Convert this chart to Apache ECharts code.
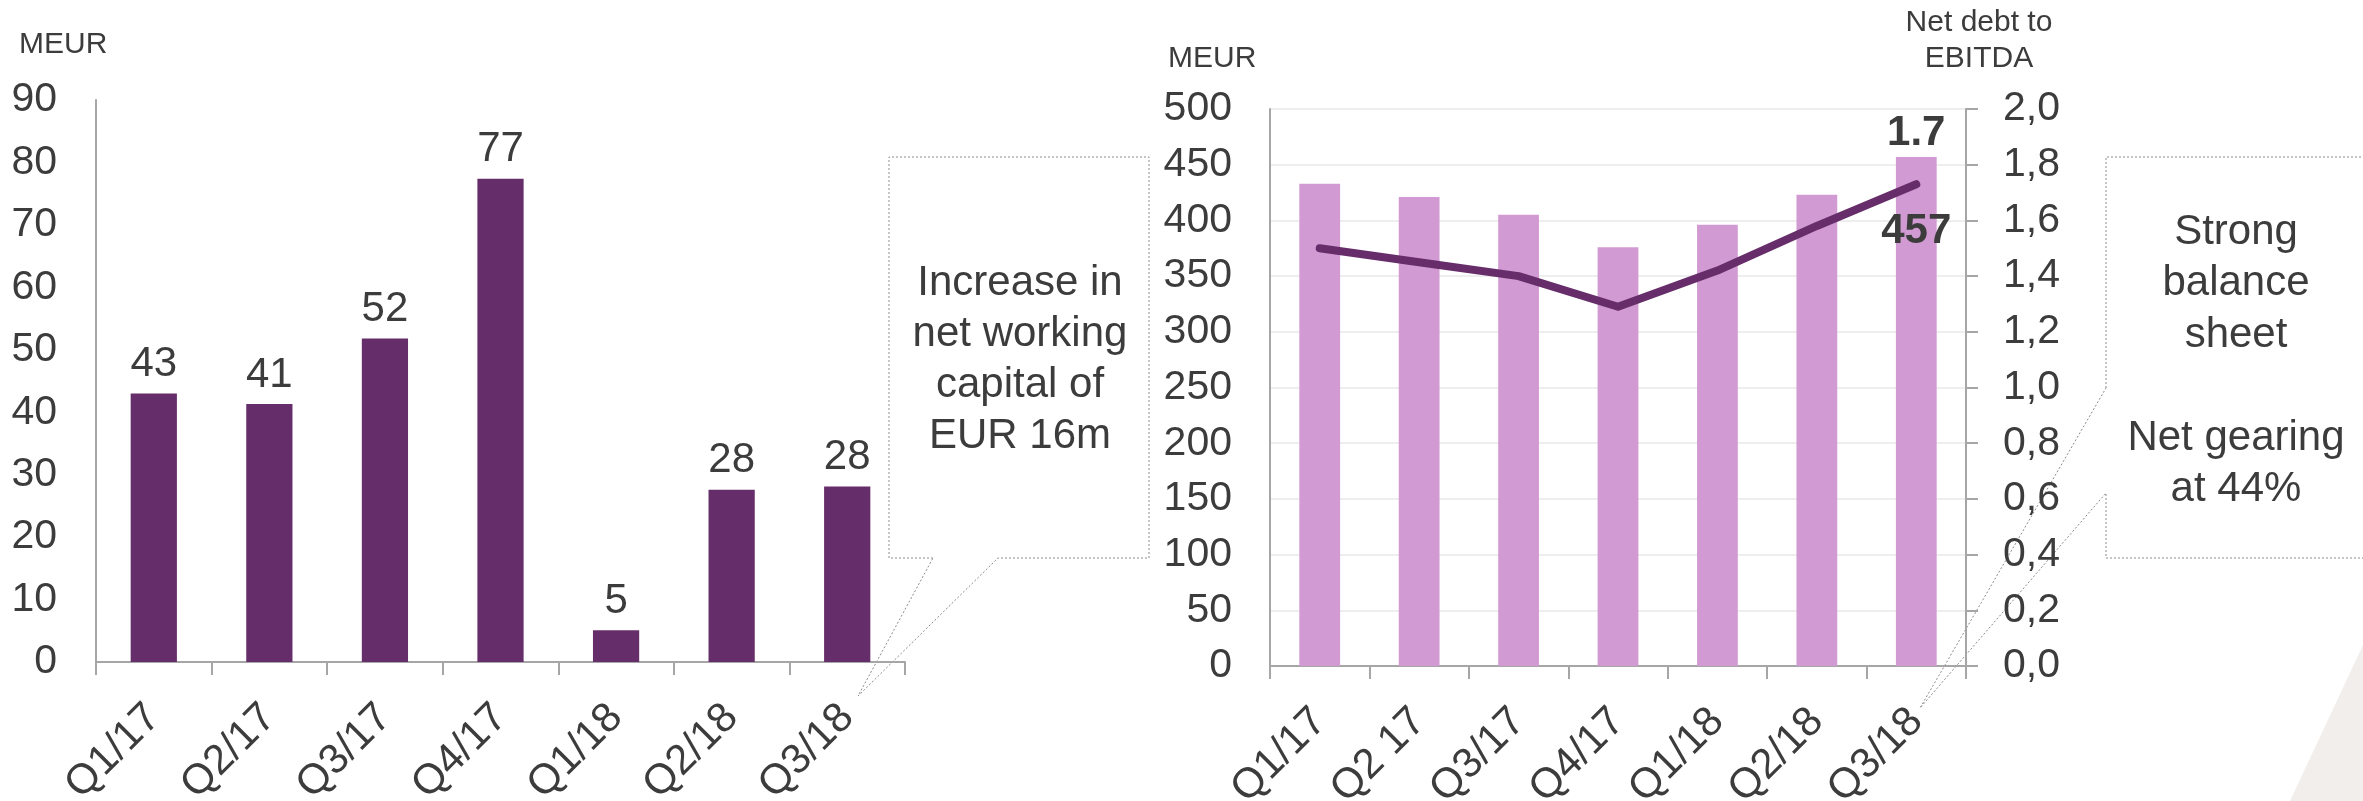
<!DOCTYPE html>
<html>
<head>
<meta charset="utf-8">
<script src="https://cdn.jsdelivr.net/npm/echarts@6/dist/echarts.min.js"></script>
<style>
html, body { margin: 0; padding: 0; background: #fff; }
#chart { width: 2363px; height: 801px; }
</style>
</head>
<body>
<div id="chart"></div>
<script>
// left chart: cash flow (MEUR)
var leftCats = ['Q1/17', 'Q2/17', 'Q3/17', 'Q4/17', 'Q1/18', 'Q2/18', 'Q3/18']
var leftValues = [43, 41.3, 51.8, 77.4, 5.1, 27.6, 28.1]
var leftTicks = [0, 90, 10]

// right chart: net debt (MEUR) and net debt to EBITDA
var rightCats = ['Q1/17', 'Q2 17', 'Q3/17', 'Q4/17', 'Q1/18', 'Q2/18', 'Q3/18']
var netDebt = [433, 421, 405, 376, 396, 423, 457]
var debtToEbitda = [1.50, 1.45, 1.40, 1.29, 1.42, 1.58, 1.73]
var debtTicks = [0, 500, 50]
var ratioTicks = [0, 2, 0.2]

var font = 'Liberation Sans, Arial, sans-serif'
var textColor = '#3c3c3c'
var axisGrey = '#a6a6a6'

var chart = echarts.init(document.getElementById('chart'))

// last points get the bold labels
var debtData = netDebt.map(function (v, i) {
  if (i === netDebt.length - 1) {
    return { value: v, label: { show: true, position: 'insideTop', distance: 54, fontWeight: 'bold', fontSize: 42, color: textColor, fontFamily: font } }
  }
  return v
})
var ratioData = debtToEbitda.map(function (v, i) {
  if (i === debtToEbitda.length - 1) {
    return { value: v, label: { show: true, position: 'top', distance: 29, fontWeight: 'bold', fontSize: 42, color: textColor, fontFamily: font, formatter: function (p) { return p.value.toFixed(1) } } }
  }
  return v
})

function catAxis(idx, cats) {
  return {
    type: 'category',
    gridIndex: idx,
    data: cats,
    axisLine: { show: true, lineStyle: { color: axisGrey, width: 2 } },
    axisTick: { show: true, length: 13, lineStyle: { color: axisGrey, width: 2 } },
    axisLabel: { interval: 0, rotate: 45, margin: 49, fontSize: 42, color: textColor, fontFamily: font }
  }
}

var option = {
  animation: false,
  backgroundColor: '#fff',
  grid: [
    { left: 96, top: 100, width: 809, height: 562, outerBoundsMode: 'none' },
    { left: 1270, top: 109, width: 696, height: 557, outerBoundsMode: 'none' }
  ],
  xAxis: [catAxis(0, leftCats), catAxis(1, rightCats)],
  yAxis: [
    {
      type: 'value', gridIndex: 0,
      min: leftTicks[0], max: leftTicks[1], interval: leftTicks[2],
      axisLine: { show: true, lineStyle: { color: axisGrey, width: 2 } },
      axisTick: { show: false },
      splitLine: { show: false },
      axisLabel: { margin: 39, fontSize: 41, color: textColor, fontFamily: font }
    },
    {
      type: 'value', gridIndex: 1,
      min: debtTicks[0], max: debtTicks[1], interval: debtTicks[2],
      axisLine: { show: true, lineStyle: { color: axisGrey, width: 2 } },
      axisTick: { show: false },
      splitLine: { show: true, lineStyle: { color: '#eeeeee', width: 2 } },
      axisLabel: { margin: 38, fontSize: 41, color: textColor, fontFamily: font }
    },
    {
      type: 'value', gridIndex: 1, position: 'right',
      min: ratioTicks[0], max: ratioTicks[1], interval: ratioTicks[2],
      axisLine: { show: true, lineStyle: { color: axisGrey, width: 2 } },
      axisTick: { show: true, length: 12, lineStyle: { color: axisGrey, width: 2 } },
      splitLine: { show: false },
      axisLabel: {
        margin: 37, fontSize: 41, color: textColor, fontFamily: font,
        formatter: function (v) { return v.toFixed(1).replace('.', ',') }
      }
    }
  ],
  series: [
    {
      type: 'bar', xAxisIndex: 0, yAxisIndex: 0,
      data: leftValues, barWidth: '40%',
      itemStyle: { color: '#652d69' },
      label: {
        show: true, position: 'top', distance: 8, fontSize: 42, color: textColor, fontFamily: font,
        formatter: function (p) { return Math.round(p.value) }
      }
    },
    {
      type: 'bar', xAxisIndex: 1, yAxisIndex: 1,
      data: debtData, barWidth: '41%',
      itemStyle: { color: '#d29ad3' }
    },
    {
      type: 'line', xAxisIndex: 1, yAxisIndex: 2,
      data: ratioData, symbol: 'circle', symbolSize: 1, showSymbol: true, z: 5,
      itemStyle: { color: '#662d6a' },
      lineStyle: { color: '#662d6a', width: 8, cap: 'round', join: 'round' }
    }
  ],
  graphic: [
    { type: 'polygon', z: -1, silent: true, shape: { points: [[2363, 645], [2290, 801], [2370, 801], [2370, 645]] }, style: { fill: '#f2eeeb' } },
    { type: 'text', x: 19, y: 45, style: { text: 'MEUR', fill: textColor, font: '30px ' + font, verticalAlign: 'middle' } },
    { type: 'text', x: 1168, y: 59, style: { text: 'MEUR', fill: textColor, font: '30px ' + font, verticalAlign: 'middle' } },
    { type: 'text', x: 1979, y: 41, style: { text: 'Net debt to\nEBITDA', fill: textColor, font: '30px ' + font, align: 'center', verticalAlign: 'middle', lineHeight: 36 } },
    {
      type: 'polyline', silent: true,
      shape: { points: [[933, 558], [889, 558], [889, 157], [1149, 157], [1149, 558], [998, 558], [858, 696], [933, 558]] },
      style: { stroke: '#8c8c8c', lineWidth: 1, lineDash: [2, 2], fill: null }
    },
    { type: 'text', x: 1020, y: 360, style: { text: 'Increase in\nnet working\ncapital of\nEUR 16m', fill: textColor, font: '42px ' + font, align: 'center', verticalAlign: 'middle', lineHeight: 51 } },
    {
      type: 'polyline', silent: true,
      shape: { points: [[2106, 388], [2106, 157], [2375, 157], [2375, 558], [2106, 558], [2106, 493], [1920, 708], [2106, 388]] },
      style: { stroke: '#8c8c8c', lineWidth: 1, lineDash: [2, 2], fill: null }
    },
    { type: 'text', x: 2236, y: 361, style: { text: 'Strong\nbalance\nsheet\n\nNet gearing\nat 44%', fill: textColor, font: '42px ' + font, align: 'center', verticalAlign: 'middle', lineHeight: 51.5 } }
  ]
}

chart.setOption(option)
</script>
</body>
</html>
